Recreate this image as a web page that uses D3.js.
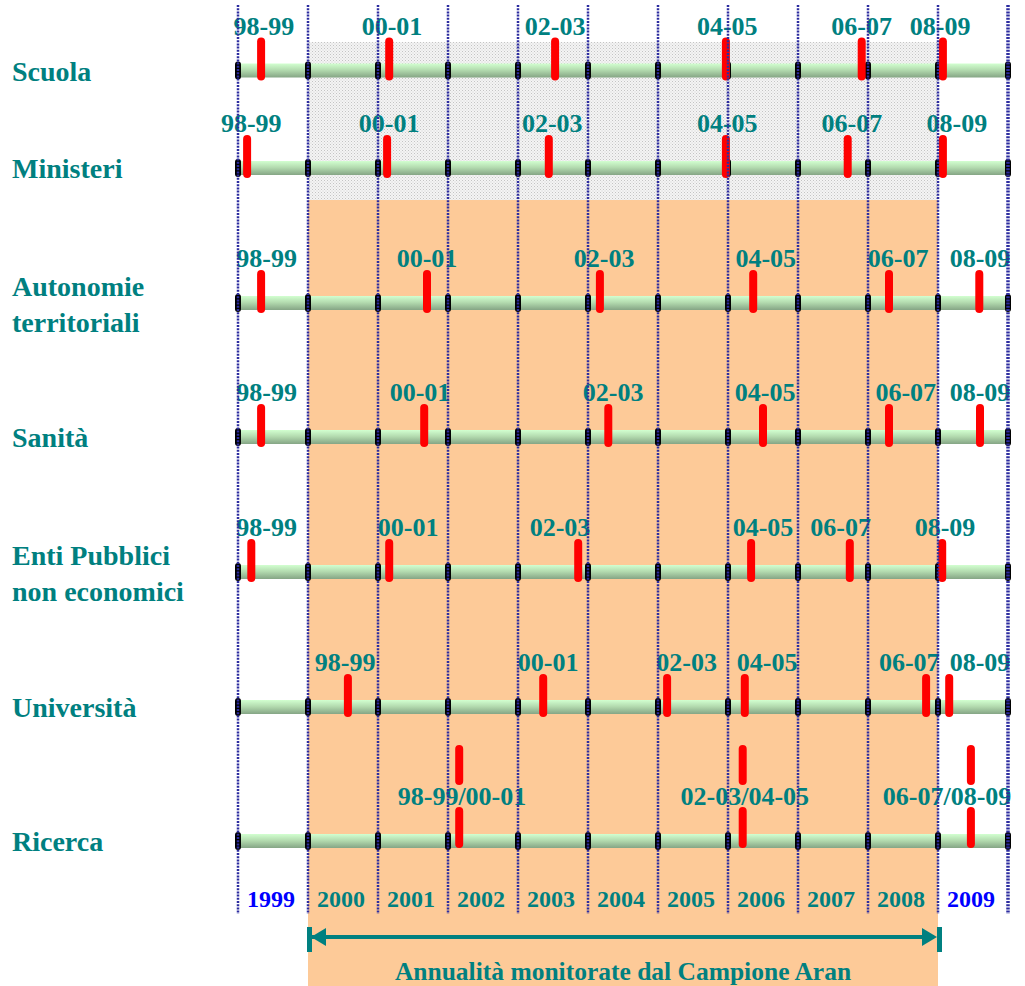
<!DOCTYPE html>
<html>
<head>
<meta charset="utf-8">
<script src="https://cdn.jsdelivr.net/npm/d3@7"></script>
<style>
  html, body { margin: 0; padding: 0; background: #ffffff; }
  svg { display: block; }
  text { font-family: "Liberation Serif", "Times New Roman", serif; font-weight: bold; }
</style>
</head>
<body>
<svg id="chart" width="1025" height="986"></svg>
<script>
// Contract rounds (biennial periods) signed per public-administration sector.
const sectors = ["Scuola", "Ministeri", "Autonomie\nterritoriali", "Sanità",
                 "Enti Pubblici\nnon economici", "Università", "Ricerca"];

const periods = ["98-99", "00-01", "02-03", "04-05", "06-07", "08-09"];
const ricercaPeriods = ["98-99/00-01", "02-03/04-05", "06-07/08-09"];

// Signing dates, in decimal years
const scuolaDates      = [1999.33, 2001.16, 2003.53, 2005.97, 2007.91, 2009.07];
const ministeriDates   = [1999.13, 2001.13, 2003.44, 2005.97, 2007.71, 2009.07];
const autonomieDates   = [1999.33, 2001.70, 2004.17, 2006.36, 2008.30, 2009.59];
const sanitaDates      = [1999.33, 2001.66, 2004.29, 2006.50, 2008.30, 2009.60];
const entiDates        = [1999.19, 2001.16, 2003.86, 2006.33, 2007.74, 2009.06];
const universitaDates  = [2000.57, 2003.36, 2005.13, 2006.24, 2008.83, 2009.16];
const ricercaDates     = [2002.16, 2006.21, 2009.47];

// Where each period caption sits along the time axis, in decimal years
const scuolaLabelAt     = [1999.37, 2001.20, 2003.53, 2005.99, 2007.91, 2009.03];
const ministeriLabelAt  = [1999.19, 2001.16, 2003.49, 2005.99, 2007.77, 2009.27];
const autonomieLabelAt  = [1999.41, 2001.70, 2004.23, 2006.54, 2008.43, 2009.60];
const sanitaLabelAt     = [1999.41, 2001.60, 2004.36, 2006.53, 2008.54, 2009.60];
const entiLabelAt       = [1999.41, 2001.43, 2003.60, 2006.50, 2007.61, 2009.10];
const universitaLabelAt = [2000.53, 2003.43, 2005.41, 2006.56, 2008.59, 2009.60];
const ricercaLabelAt    = [2002.20, 2006.24, 2009.13];

const years = [1999, 2000, 2001, 2002, 2003, 2004, 2005, 2006, 2007, 2008, 2009];
const monitoredFrom = 2000, monitoredTo = 2009;   // Aran sample covers 2000–2008
const footnote = "Annualità monitorate dal Campione Aran";

// Build row records
const dateSets  = [scuolaDates, ministeriDates, autonomieDates, sanitaDates, entiDates, universitaDates, ricercaDates];
const labelSets = [scuolaLabelAt, ministeriLabelAt, autonomieLabelAt, sanitaLabelAt, entiLabelAt, universitaLabelAt, ricercaLabelAt];
const rows = sectors.map((name, i) => ({
  name,
  double: i === 6,
  marks: dateSets[i].map((d, j) => ({
    date: d,
    labelAt: labelSets[i][j],
    label: (i === 6 ? ricercaPeriods : periods)[j]
  }))
}));

// ---- layout ----
const svg = d3.select("#chart");
const teal = "#008080";
const x = d3.scaleLinear().domain([1999, 2010]).range([238, 1008]);
const rowY = d3.scaleOrdinal().domain(sectors).range([70.5, 168, 303, 437, 572, 707, 841]);

const defs = svg.append("defs");
const grad = defs.append("linearGradient").attr("id", "barGrad")
  .attr("x1", 0).attr("y1", 0).attr("x2", 0).attr("y2", 1);
grad.append("stop").attr("offset", "0%").attr("stop-color", "#d2ffd0");
grad.append("stop").attr("offset", "45%").attr("stop-color", "#b4dcb0");
grad.append("stop").attr("offset", "100%").attr("stop-color", "#85a585");

const pat = defs.append("pattern").attr("id", "stipple")
  .attr("patternUnits", "userSpaceOnUse").attr("width", 3).attr("height", 3);
pat.append("rect").attr("width", 3).attr("height", 3).attr("fill", "#f4f4f4");
pat.append("rect").attr("x", 0).attr("y", 0).attr("width", 1).attr("height", 1).attr("fill", "#c4c4c4");
pat.append("rect").attr("x", 1.5).attr("y", 1.5).attr("width", 1).attr("height", 1).attr("fill", "#d0d0d0");

// Monitored window: stippled behind the first two sectors, orange below
svg.append("rect")
  .attr("x", x(monitoredFrom)).attr("width", x(monitoredTo) - x(monitoredFrom))
  .attr("y", 42).attr("height", 158)
  .attr("fill", "url(#stipple)");
svg.append("rect")
  .attr("x", x(monitoredFrom)).attr("width", x(monitoredTo) - x(monitoredFrom))
  .attr("y", 200).attr("height", 786)
  .attr("fill", "#fdca98");

// Sector names
const nameG = svg.append("g").attr("fill", teal).attr("font-size", 28);
rows.forEach(r => {
  const lines = r.name.split("\n");
  const cy = rowY(r.name);
  const y0 = lines.length === 1 ? cy + 10 : cy - 7;
  const t = nameG.append("text").attr("x", 12).attr("y", y0);
  lines.forEach((ln, k) => t.append("tspan").attr("x", 12).attr("y", y0 + k * 36).text(ln));
});

// Period captions
const capG = svg.append("g").attr("fill", teal).attr("font-size", 26).attr("text-anchor", "middle");
rows.forEach(r => {
  const cy = rowY(r.name);
  capG.selectAll(null).data(r.marks).join("text")
    .attr("x", d => x(d.labelAt))
    .attr("y", cy - 36)
    .text(d => d.label);
});

// Year labels
svg.append("g").attr("font-size", 24).attr("text-anchor", "middle")
  .selectAll("text").data(years).join("text")
  .attr("x", d => x(d + 0.5) - 2)
  .attr("y", 907)
  .attr("fill", d => (d >= monitoredFrom && d < monitoredTo) ? teal : "#0000ff")
  .text(d => d);

// Timelines
const lineG = svg.append("g");
lineG.selectAll("rect").data(rows).join("rect")
  .attr("x", x(1999)).attr("width", x(2010) - x(1999) - 3)
  .attr("y", d => rowY(d.name) - 7).attr("height", 14)
  .attr("fill", "url(#barGrad)");

// Year boundary ticks on each timeline
const boundaries = d3.range(1999, 2011);
rows.forEach(r => {
  const cy = rowY(r.name);
  lineG.append("g").selectAll("rect").data(boundaries).join("rect")
    .attr("x", d => x(d) - 3).attr("width", 6)
    .attr("y", cy - 9).attr("height", 18)
    .attr("rx", 3)
    .attr("fill", "#000");
});

// Signing markers
const markG = svg.append("g").attr("fill", "#ff0000");
rows.forEach(r => {
  const cy = rowY(r.name);
  const segs = r.double ? [[cy - 96, cy - 56], [cy - 34, cy + 7]] : [[cy - 33, cy + 10]];
  r.marks.forEach(m => {
    segs.forEach(([y0, y1]) => {
      markG.append("rect")
        .attr("x", x(m.date) - 4).attr("width", 8)
        .attr("y", y0).attr("height", y1 - y0)
        .attr("rx", 4);
    });
  });
});

// Dotted year grid
svg.append("g").selectAll("line").data(boundaries).join("line")
  .attr("x1", d => x(d)).attr("x2", d => x(d))
  .attr("y1", 5).attr("y2", 914)
  .attr("stroke", "#2c2ca0")
  .attr("stroke-width", d => d === 2010 ? 3.5 : 2.5)
  .attr("stroke-dasharray", "2,1.2");

// Double-headed arrow spanning the monitored years
const ax0 = x(monitoredFrom), ax1 = x(monitoredTo), ay = 937;
const arrow = svg.append("g").attr("fill", teal);
arrow.append("rect").attr("x", ax0 + 4).attr("y", ay - 2).attr("width", ax1 - ax0 - 8).attr("height", 4);
arrow.append("rect").attr("x", ax0 - 1).attr("y", ay - 10).attr("width", 5).attr("height", 25);
arrow.append("rect").attr("x", ax1 - 1).attr("y", ay - 10).attr("width", 5).attr("height", 25);
arrow.append("path").attr("d", `M${ax0 + 3},${ay} L${ax0 + 18},${ay - 9} L${ax0 + 18},${ay + 9} Z`);
arrow.append("path").attr("d", `M${ax1 - 1},${ay} L${ax1 - 16},${ay - 9} L${ax1 - 16},${ay + 9} Z`);

svg.append("text")
  .attr("x", (ax0 + ax1) / 2).attr("y", 980)
  .attr("text-anchor", "middle").attr("font-size", 25.5).attr("fill", teal)
  .text(footnote);
</script>
</body>
</html>
